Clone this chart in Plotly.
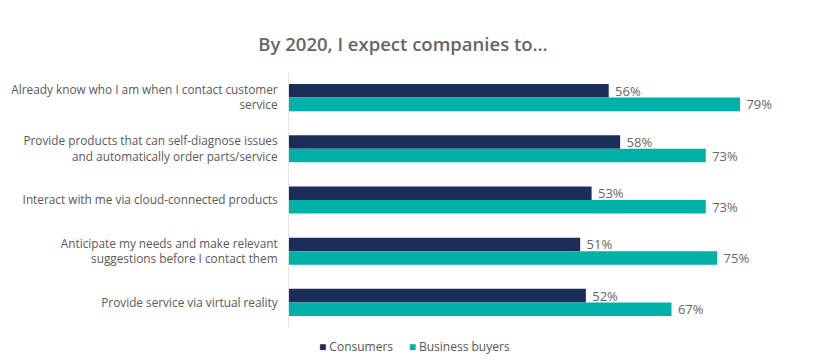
import plotly.graph_objects as go

categories = [
    "Already know who I am when I contact customer<br>service",
    "Provide products that can self-diagnose issues<br>and automatically order parts/service",
    "Interact with me via cloud-connected products",
    "Anticipate my needs and make relevant<br>suggestions before I contact them",
    "Provide service via virtual reality",
]
consumers = [56, 58, 53, 51, 52]
business_buyers = [79, 73, 73, 75, 67]
series_names = ["Consumers", "Business buyers"]

NAVY = "#1b2d58"
TEAL = "#00b1a7"
GRAY = "#666666"
FONT = "Open Sans"

W, H = 812, 355  # page body has an 8px margin
L, R, T, B = 281, 40, 64, 35
PW, PH = W - L - R, H - T - B

fig = go.Figure()
for name, vals, col in [(series_names[0], consumers, NAVY), (series_names[1], business_buyers, TEAL)]:
    fig.add_trace(go.Bar(
        y=categories, x=vals, orientation="h", name=name,
        marker=dict(color=col, line=dict(width=0)),
        text=[f" {v}%" for v in vals], textposition="outside",
        constraintext="none",
        textfont=dict(color=GRAY, size=13, family=FONT), cliponaxis=False,
        showlegend=False,
    ))

legend_text = (
    f"<span style='color:{NAVY}'>■</span> {series_names[0]}"
    f"     <span style='color:{TEAL}'>■</span> {series_names[1]}"
)
fig.add_annotation(
    text=legend_text, xref="paper", yref="paper", x=(406 - L) / PW, y=-18 / PH,
    xanchor="center", yanchor="middle", showarrow=False,
    font=dict(family=FONT, size=12, color="#555555"),
)

fig.update_layout(
    width=W, height=H,
    margin=dict(l=L, r=R, t=T, b=B),
    paper_bgcolor="white", plot_bgcolor="white",
    barmode="group", bargap=0.47, bargroupgap=0,
    title=dict(text="By 2020, I expect companies to…", x=395 / W, xanchor="center",
               y=1 - 37 / H, yref="container", yanchor="middle",
               font=dict(family=FONT, size=18.5, color=GRAY, weight=600)),
    font=dict(family=FONT, color=GRAY),
)
fig.update_xaxes(range=[0, 86], autorange=False, type="linear", showticklabels=False,
                 showline=False, showgrid=False, zeroline=False, ticks="")
fig.update_yaxes(autorange="reversed", showline=True, linecolor="#e3e3e3", linewidth=1,
                 showgrid=False, ticks="", ticklabelstandoff=8, automargin=False,
                 tickfont=dict(family=FONT, size=11.8, color="#595959"))

fig.write_html("out.html")
